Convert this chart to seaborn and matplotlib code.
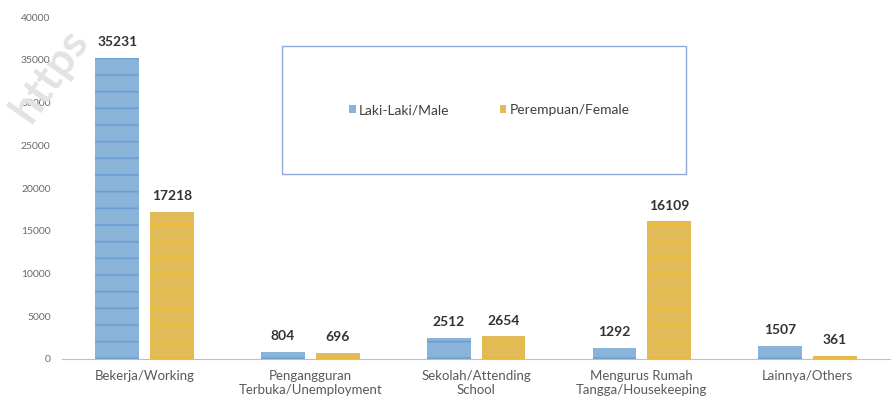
import matplotlib
matplotlib.use("Agg")
import matplotlib.pyplot as plt
from matplotlib.patches import Rectangle
import seaborn as sns
import pandas as pd

# data
categories = ["Bekerja/Working", "Pengangguran\nTerbuka/Unemployment", "Sekolah/Attending\nSchool",
              "Mengurus Rumah\nTangga/Housekeeping", "Lainnya/Others"]
male = [35231, 804, 2512, 1292, 1507]
female = [17218, 696, 2654, 16109, 361]
series = ["Laki-Laki/Male", "Perempuan/Female"]

df = pd.DataFrame({
    "kategori": categories * 2,
    "jumlah": male + female,
    "jk": [series[0]] * len(male) + [series[1]] * len(female),
})

sns.set_style("white")
plt.rcParams["font.family"] = ["Lato", "DejaVu Sans"]
plt.rcParams["hatch.linewidth"] = 1.2

fig = plt.figure(figsize=(8.94, 4.07), dpi=100)
ax = fig.add_axes([0.069, 0.118, 0.927, 0.84])

sns.barplot(data=df, x="kategori", y="jumlah", hue="jk", order=categories, hue_order=series,
            palette=["#7db3e6", "#f7c640"], width=0.66, gap=0.2, ax=ax, legend=True,
            edgecolor="none")

# stripe effect on bars
hatch_cols = ["#6a9fd4", "#efba2c"]
for i, cont in enumerate(ax.containers):
    for bar in cont:
        bar.set_hatch("-")
        bar.set_edgecolor(hatch_cols[i])
        bar.set_linewidth(0)
    ax.bar_label(cont, fmt="%d", padding=7, fontsize=10, fontweight="bold", color="#333333")

ax.set_ylim(0, 40000)
ax.set_yticks(range(0, 40001, 5000))
ax.set_xlabel("")
ax.set_ylabel("")
sns.despine(ax=ax, left=True)
ax.spines["bottom"].set_color("#bfbfbf")
ax.tick_params(axis="y", length=0, labelsize=7.5, colors="#6b6b6b", pad=8)
ax.tick_params(axis="x", length=0, labelsize=9.5, colors="#595959", pad=8)

# legend box drawn as a frame, legend entries centred inside
ax.add_patch(Rectangle((0.266, 0.542), 0.487, 0.372, transform=ax.transAxes, facecolor="white",
                       edgecolor="#8eaad6", linewidth=1, zorder=3))
leg = ax.legend(loc="center", bbox_to_anchor=(0.516, 0.728), ncol=2, fontsize=10, frameon=False,
                handlelength=0.45, handleheight=0.45, handletextpad=0.25, columnspacing=3.6)
leg.set_zorder(4)
for t in leg.get_texts():
    t.set_color("#404040")

# watermark
fig.text(0.004, 0.70, "https", rotation=55, fontsize=32, color="#e3e3e3",
         fontweight="bold", zorder=0)

fig.savefig("out.png", dpi=100)
